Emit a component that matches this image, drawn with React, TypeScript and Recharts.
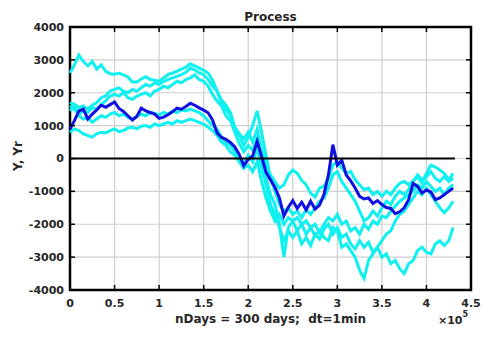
import React from "react";
import {
  LineChart,
  Line,
  XAxis,
  YAxis,
  CartesianGrid,
  ReferenceLine,
  ReferenceArea,
} from "recharts";

// time in units of 1e5 minutes
const tGrid = [
  0, 0.05, 0.1, 0.15, 0.2, 0.25, 0.3, 0.35, 0.4, 0.45,
  0.5, 0.55, 0.6, 0.65, 0.7, 0.75, 0.8, 0.85, 0.9, 0.95,
  1.0, 1.05, 1.1, 1.15, 1.2, 1.25, 1.3, 1.35, 1.4, 1.45,
  1.5, 1.55, 1.6, 1.65, 1.7, 1.75, 1.8, 1.85, 1.9, 1.95,
  2.0, 2.05, 2.1, 2.15, 2.2, 2.25, 2.3, 2.35, 2.4, 2.45,
  2.5, 2.55, 2.6, 2.65, 2.7, 2.75, 2.8, 2.85, 2.9, 2.95,
  3.0, 3.05, 3.1, 3.15, 3.2, 3.25, 3.3, 3.35, 3.4, 3.45,
  3.5, 3.55, 3.6, 3.65, 3.7, 3.75, 3.8, 3.85, 3.9, 3.95,
  4.0, 4.05, 4.1, 4.15, 4.2, 4.25, 4.3,
];

// main process Y (blue)
const yMain = [
  900, 1150, 1450, 1500, 1200, 1350, 1480, 1620, 1560, 1640,
  1720, 1520, 1430, 1300, 1170, 1280, 1530, 1450, 1400, 1350,
  1220, 1260, 1330, 1420, 1530, 1500, 1580, 1680, 1620, 1540,
  1470, 1390, 1170, 780, 640, 580, 490, 350, 120, -220,
  -30, 80, 520, 60, -420, -650, -870, -1200, -1750, -1480,
  -1280, -1520, -1330, -1560, -1300, -1540, -1420, -1100, -500, 420,
  -200, -50, -500, -680, -900, -1150, -1230, -1200, -1370, -1280,
  -1400, -1490, -1520, -1680, -1620, -1500, -1250, -760, -850, -1050,
  -960, -1020, -1250, -1200, -1100, -1000, -900,
];

// realisations Yr (cyan)
const yr1 = [
  2600, 2850, 3150, 2950, 2820, 2950, 2720, 2850, 2650, 2580,
  2560, 2600, 2540, 2480, 2330, 2330, 2420, 2490, 2400, 2380,
  2350, 2450, 2550, 2600, 2650, 2720, 2780, 2880, 2820, 2750,
  2680, 2600, 2380, 2050, 1780, 1620, 1400, 950, 750, 600,
  800, 500, 900, 300, -200, -500, -700, -900, -800, -500,
  -350, -450, -660, -800, -1050, -1170, -900, -850, -600, -200,
  -100, -300, -450, -400, -650, -800, -950, -900, -1100, -1000,
  -1150, -1000, -1100, -900, -750, -700, -800, -680, -560, -750,
  -450, -200, -260, -350, -450, -650, -450,
];
const yr2 = [
  1700, 1650, 1550, 1600, 1500, 1620, 1700, 1850, 1900, 2050,
  2100, 2150, 2050, 2000, 2100, 2050, 2150, 2250, 2200, 2300,
  2250, 2350, 2400, 2450, 2500, 2550, 2620, 2750, 2700, 2600,
  2550, 2400, 2200, 2050, 1700, 1500, 1300, 900, 700, 400,
  650, 1000, 1450, 800, 100, -600, -1000, -1400, -1600, -1500,
  -1700, -1600, -1800, -1550, -1700, -1500, -1300, -1200, -900, -500,
  -400, -700, -900, -1100, -1300, -1600, -1900, -1800, -1600, -1750,
  -1500, -1300, -1400, -1150, -1000, -1100, -950, -700, -500, -650,
  -550, -400, -600, -700, -550, -700, -600,
];
const yr3 = [
  1600, 1500, 1350, 1450, 1400, 1550, 1500, 1650, 1750, 1900,
  1950, 1900, 2000, 1850, 1800, 1900, 1950, 2000, 1900, 2050,
  2100, 2200, 2150, 2250, 2350, 2300, 2400, 2450, 2550, 2400,
  2350, 2200, 1950, 1750, 1600, 1300, 1150, 800, 450, 200,
  400, 250, 600, -100, -600, -1100, -1400, -2000, -3000, -2100,
  -1900, -2200, -2000, -2300, -2100, -2350, -2200, -2400, -2500, -2100,
  -2200, -2700, -2600, -2800, -3000, -3400, -3650, -3100, -2900, -2700,
  -2500, -2300, -2200, -1900, -1700, -1600, -1400, -1200, -1000, -1100,
  -900, -1100, -1300, -1500, -1650, -1500, -1300,
];
const yr4 = [
  1450, 1600, 1300, 1200, 1250, 1100, 1200, 1300, 1250, 1350,
  1400, 1300, 1350, 1250, 1200, 1280, 1350, 1300, 1400, 1380,
  1320, 1400, 1350, 1450, 1400, 1480, 1450, 1500, 1450, 1400,
  1300, 1150, 1000, 900, 650, 500, 400, 200, 0, -150,
  100, -100, 300, -300, -800, -1400, -1700, -2100, -2500, -2200,
  -2400, -2200, -2600, -2400, -2650, -2300, -2450, -2150, -2000, -2300,
  -2100, -2400, -2300, -2600, -2750, -2500, -2700, -2550, -2850, -2700,
  -3000, -2900, -3200, -3100, -3350, -3500, -3200, -3100, -2800, -2700,
  -2850, -2900, -2600, -2500, -2650, -2500, -2100,
];
const yr5 = [
  800, 900, 850, 750, 700, 650, 750, 800, 780, 850,
  900, 820, 850, 930, 950, 900, 980, 1000, 950, 1050,
  1000, 1050, 1100, 1050, 1150, 1100, 1150, 1200, 1150, 1100,
  1050, 950, 850, 700, 500, 400, 200, 100, -100, -300,
  -200, -400, -100, -700, -1200, -1600, -1900, -1700, -2000, -1800,
  -1900, -1800, -2000, -1900, -2100, -2000, -2250, -2000, -1800, -1900,
  -1700, -2000, -1900, -2200, -2100, -2300, -2000, -2150, -1900, -2000,
  -1750, -1800, -1600, -1450, -1300, -1200, -1100, -1000, -800, -900,
  -700, -850, -1000, -900, -1100, -900, -800,
];

const xTicks = [0, 0.5, 1, 1.5, 2, 2.5, 3, 3.5, 4, 4.5];
const yTicks = [-4000, -3000, -2000, -1000, 0, 1000, 2000, 3000, 4000];
const tEnd = 4.32;

const data = tGrid.map((t, i) => ({
  t,
  y: yMain[i],
  r1: yr1[i],
  r2: yr2[i],
  r3: yr3[i],
  r4: yr4[i],
  r5: yr5[i],
}));

const W = 496;
const H = 341;
const TOP = 27;
const BOTTOM = 290;
const LEFT = 70;
const RIGHT = 471;
const FONT = "'DejaVu Sans', sans-serif";
const TXT = "#262626";
const CYAN = "#10f0f0";
const BLUE = "#1010e0";

function XTick(props: any) {
  const { x, payload } = props;
  return (
    <g>
      <line x1={x} x2={x} y1={BOTTOM} y2={BOTTOM - 5} stroke="#000" strokeWidth={1.5} />
      <line x1={x} x2={x} y1={TOP} y2={TOP + 5} stroke="#000" strokeWidth={1.5} />
      <text
        x={x}
        y={BOTTOM + 17}
        textAnchor="middle"
        fontFamily={FONT}
        fontWeight="bold"
        fontSize={11}
        fill={TXT}
      >
        {payload.value}
      </text>
    </g>
  );
}

function YTick(props: any) {
  const { y, payload } = props;
  return (
    <g>
      <line x1={LEFT} x2={LEFT + 5} y1={y} y2={y} stroke="#000" strokeWidth={1.5} />
      <line x1={RIGHT} x2={RIGHT - 5} y1={y} y2={y} stroke="#000" strokeWidth={1.5} />
      <text
        x={LEFT - 6}
        y={y}
        dy="0.36em"
        textAnchor="end"
        fontFamily={FONT}
        fontWeight="bold"
        fontSize={11}
        fill={TXT}
      >
        {payload.value}
      </text>
    </g>
  );
}

export default function App() {
  const cyanKeys = ["r1", "r2", "r3", "r4", "r5"];
  return (
    <div style={{ position: "absolute", left: 0, top: 0, background: "#fff" }}>
      <LineChart
        width={W}
        height={H}
        data={data}
        margin={{ top: TOP, right: W - RIGHT, bottom: 21, left: 8 }}
      >
        <CartesianGrid stroke="#cfcfcf" strokeWidth={1.2} />
        <XAxis
          dataKey="t"
          type="number"
          domain={[0, 4.5]}
          ticks={xTicks}
          height={30}
          axisLine={false}
          tickLine={false}
          tickSize={0}
          tick={<XTick />}
          interval={0}
        />
        <YAxis
          type="number"
          domain={[-4000, 4000]}
          ticks={yTicks}
          width={62}
          axisLine={false}
          tickLine={false}
          tickSize={0}
          tick={<YTick />}
          interval={0}
        />
        {cyanKeys.map((k) => (
          <Line
            key={k}
            type="linear"
            dataKey={k}
            stroke={CYAN}
            strokeWidth={3}
            dot={false}
            isAnimationActive={false}
          />
        ))}
        <Line
          type="linear"
          dataKey="y"
          stroke={BLUE}
          strokeWidth={3}
          dot={false}
          isAnimationActive={false}
        />
        <ReferenceLine
          segment={[
            { x: 0, y: 0 },
            { x: tEnd, y: 0 },
          ]}
          stroke="#000"
          strokeWidth={2}
        />
        <ReferenceArea
          x1={0}
          x2={4.5}
          y1={-4000}
          y2={4000}
          fill="none"
          fillOpacity={0}
          stroke="#000"
          strokeWidth={2.5}
        />
        <text
          x={(LEFT + RIGHT) / 2}
          y={21}
          textAnchor="middle"
          fontFamily={FONT}
          fontWeight="bold"
          fontSize={12}
          fill={TXT}
        >
          Process
        </text>
        <text
          x={(LEFT + RIGHT) / 2}
          y={323}
          textAnchor="middle"
          fontFamily={FONT}
          fontWeight="bold"
          fontSize={12}
          fill={TXT}
          style={{ whiteSpace: "pre" }}
        >
          {"nDays = 300 days;  dt=1min"}
        </text>
        <text
          x={22}
          y={156}
          textAnchor="middle"
          fontFamily={FONT}
          fontWeight="bold"
          fontSize={12}
          fill={TXT}
          transform="rotate(-90 22 156)"
        >
          Y, Yr
        </text>
        <text
          x={438}
          y={324}
          fontFamily={FONT}
          fontWeight="bold"
          fontSize={11}
          fill={TXT}
        >
          ×10
          <tspan dy={-7} fontSize={8}>
            5
          </tspan>
        </text>
      </LineChart>
    </div>
  );
}
